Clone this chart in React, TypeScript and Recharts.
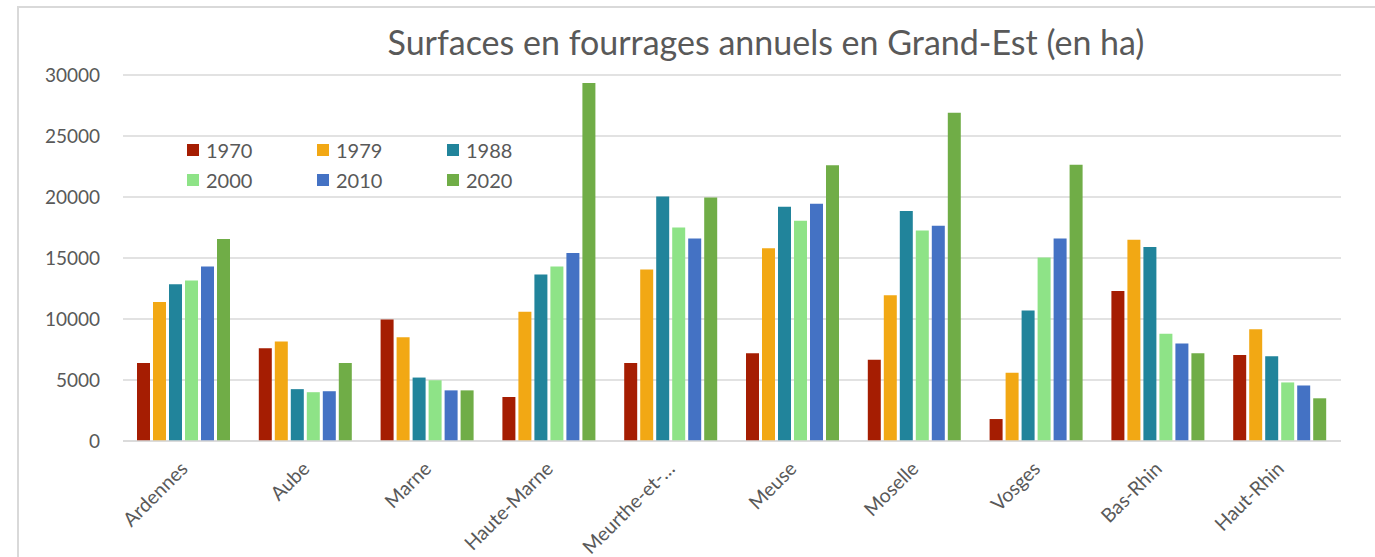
import React from 'react';
import { BarChart, Bar, XAxis, YAxis, CartesianGrid, Legend } from 'recharts';

const categories = ['Ardennes', 'Aube', 'Marne', 'Haute-Marne', 'Meurthe-et-…', 'Meuse', 'Moselle', 'Vosges', 'Bas-Rhin', 'Haut-Rhin'];

const y1970 = [6400, 7600, 9950, 3600, 6400, 7200, 6650, 1800, 12300, 7050];
const y1979 = [11400, 8150, 8500, 10600, 14050, 15800, 11950, 5600, 16500, 9150];
const y1988 = [12850, 4250, 5200, 13650, 20050, 19200, 18850, 10700, 15900, 6950];
const y2000 = [13150, 4000, 4980, 14300, 17500, 18050, 17250, 15050, 8800, 4800];
const y2010 = [14300, 4080, 4150, 15400, 16600, 19450, 17650, 16600, 8000, 4550];
const y2020 = [16550, 6400, 4150, 29350, 19950, 22600, 26900, 22650, 7200, 3500];

const yTicks = [0, 5000, 10000, 15000, 20000, 25000, 30000];

const series = [
  { key: '1970', values: y1970, color: '#A51D02' },
  { key: '1979', values: y1979, color: '#F2A814' },
  { key: '1988', values: y1988, color: '#21849B' },
  { key: '2000', values: y2000, color: '#8EE387' },
  { key: '2010', values: y2010, color: '#4472C4' },
  { key: '2020', values: y2020, color: '#70AD47' },
];

const data = categories.map((name, i) => {
  const row: any = { name };
  series.forEach((s) => { row[s.key] = s.values[i]; });
  return row;
});

const FONT = 'Lato, "Open Sans", sans-serif';
const TEXT = '#595959';

const XTick = (props: any) => {
  const { x, y, payload } = props;
  return (
    <g transform={`translate(${x + 5},${y + 29})`}>
      <text transform="rotate(-45)" textAnchor="end" fill={TEXT} fontSize={19.5} fontFamily={FONT}>
        {payload.value}
      </text>
    </g>
  );
};

const LegendGrid = () => (
  <div style={{ display: 'grid', gridTemplateColumns: 'repeat(3, 130px)', rowGap: 6, fontFamily: FONT }}>
    {series.map((s) => (
      <div key={s.key} style={{ display: 'flex', alignItems: 'center', height: 24 }}>
        <span style={{ width: 12, height: 12, background: s.color, display: 'inline-block', marginRight: 7 }} />
        <span style={{ fontSize: 20, color: TEXT }}>{s.key}</span>
      </div>
    ))}
  </div>
);

export default function App() {
  return (
    <div style={{ position: 'absolute', left: 0, top: 0, width: 1375, height: 557, overflow: 'hidden', background: '#fff' }}>
      <div style={{ position: 'absolute', left: 17, top: 6, width: 1500, height: 700, border: '2px solid #d9d9d9' }} />
      <div style={{ position: 'absolute', left: 0, width: 1532, top: 20, textAlign: 'center', fontFamily: FONT, fontSize: 34, color: TEXT, lineHeight: '44px' }}>
        Surfaces en fourrages annuels en Grand-Est (en ha)
      </div>
      <div style={{ position: 'absolute', left: 0, top: 0 }}>
        <BarChart width={1375} height={557} data={data} margin={{ top: 75, right: 34, left: 18, bottom: 16 }} barSize={13} barGap={3}>
          <CartesianGrid vertical={false} stroke="#d9d9d9" strokeWidth={1.5} />
          <XAxis dataKey="name" axisLine={{ stroke: '#d9d9d9', strokeWidth: 1.5 }} tickLine={false} tickSize={0} tickMargin={0} height={100} interval={0} tick={<XTick />} />
          <YAxis domain={[0, 30000]} ticks={yTicks} axisLine={false} tickLine={false} tickSize={0} tickMargin={23} width={105}
            tick={{ fill: TEXT, fontSize: 19, fontFamily: FONT }} />
          <Legend layout="horizontal" verticalAlign="middle" content={<LegendGrid />} wrapperStyle={{ position: 'absolute', top: 138, left: 187, width: 400 }} />
          {series.map((s) => (
            <Bar key={s.key} dataKey={s.key} fill={s.color} isAnimationActive={false} />
          ))}
        </BarChart>
      </div>
    </div>
  );
}
